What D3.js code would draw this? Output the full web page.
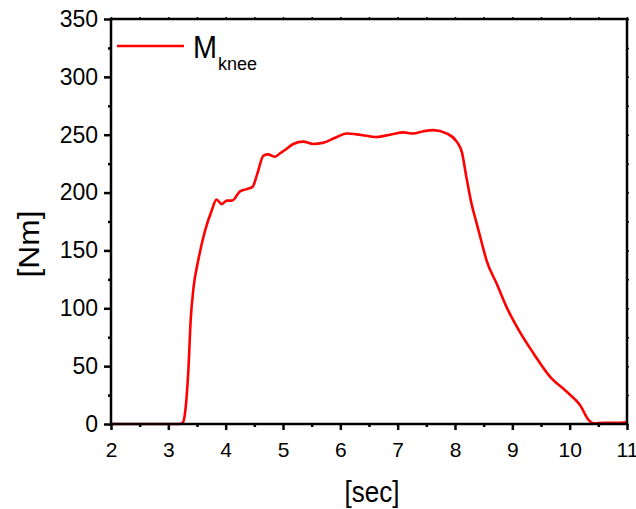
<!DOCTYPE html>
<meta charset="utf-8">
<style>
    body { margin: 0; background: #fff; }
    svg text { font-family: "Liberation Sans", Arial, sans-serif; fill: #000; }
    .line { fill: none; stroke: #ff0000; stroke-width: 2.6px; }
</style>
<body>
<script src="https://cdn.jsdelivr.net/npm/d3@7"></script>
<script>

    // knee moment
    var timeSec = [2, 2.5, 3.0, 3.2, 3.25, 3.29, 3.35, 3.39, 3.44, 3.52, 3.64, 3.76, 3.84, 3.93, 4.02, 4.11,
        4.25, 4.37, 4.47, 4.55, 4.66, 4.74, 4.86, 4.95, 5.04, 5.18, 5.35, 5.53, 5.70, 5.94, 6.11,
        6.34, 6.63, 6.87, 7.10, 7.27, 7.45, 7.62, 7.86, 8.03, 8.12, 8.20, 8.29, 8.38, 8.47, 8.55,
        8.73, 8.90, 9.13, 9.37, 9.66, 9.95, 10.18, 10.33, 10.41, 10.6, 10.8, 11];
    var torqueNm = [0, 0, 0, 0, 1, 9, 47, 90, 118, 141, 167, 185, 194, 190, 193, 193,
        201, 203, 205, 216, 232, 233, 231, 234, 237, 242, 244, 242, 243, 248, 251,
        250, 248, 250, 252, 251, 253, 254, 251, 244, 235, 213, 190, 173, 156, 141.5,
        121, 101, 79.6, 61, 40.8, 27.9, 16.4, 3.5, 0.6, 1, 1, 1.5];

    var xTicks = [2, 3, 4, 5, 6, 7, 8, 9, 10, 11];
    var yTicks = [0, 50, 100, 150, 200, 250, 300, 350];

    var margin = { top: 19, right: 9, bottom: 85, left: 111 },
        width = 636 - margin.left - margin.right,
        height = 509 - margin.top - margin.bottom;

    var x = d3.scaleLinear().domain([2, 11]).range([0, width]);
    var y = d3.scaleLinear().domain([0, 350]).range([height, 0]);

    var svg = d3.select("body").append("svg")
        .attr("width", 636)
        .attr("height", 509)
        .append("g")
        .attr("transform", "translate(" + margin.left + "," + margin.top + ")");

    var data = timeSec.map(function (t, i) { return { t: t, v: torqueNm[i] }; });

    var valueline = d3.line()
        .x(function (d) { return x(d.t); })
        .y(function (d) { return y(d.v); })
        .curve(d3.curveMonotoneX);

    svg.append("path")
        .datum(data)
        .attr("class", "line")
        .attr("d", valueline);

    var xMinor = d3.range(2.5, 11, 1);
    var yMinor = d3.range(25, 350, 50);

    // bottom axis
    var gx = svg.append("g")
        .attr("transform", "translate(0," + height + ")")
        .call(d3.axisBottom(x).tickValues(xTicks).tickSize(6).tickPadding(12).tickFormat(d3.format("d")));
    gx.selectAll(".tick line").attr("stroke-width", 2.5);
    gx.selectAll("text").style("font-size", "21px");
    gx.select(".domain").remove();
    svg.append("g")
        .attr("transform", "translate(0," + height + ")")
        .call(d3.axisBottom(x).tickValues(xMinor).tickSize(3).tickFormat(""))
        .call(function (g) { g.select(".domain").remove(); g.selectAll("line").attr("stroke-width", 2.5); });

    // left axis
    var gy = svg.append("g")
        .call(d3.axisLeft(y).tickValues(yTicks).tickSize(7).tickPadding(6));
    gy.selectAll(".tick line").attr("stroke-width", 2.5);
    gy.selectAll("text").style("font-size", "23px");
    gy.select(".domain").remove();
    svg.append("g")
        .call(d3.axisLeft(y).tickValues(yMinor).tickSize(3).tickFormat(""))
        .call(function (g) { g.select(".domain").remove(); g.selectAll("line").attr("stroke-width", 2.5); });

    // top and right ticks
    svg.append("g")
        .call(d3.axisTop(x).tickValues(xTicks.concat(xMinor)).tickSize(2).tickFormat(""))
        .call(function (g) { g.select(".domain").remove(); g.selectAll("line").attr("stroke-width", 1.5); });
    svg.append("g")
        .attr("transform", "translate(" + width + ",0)")
        .call(d3.axisRight(y).tickValues(yTicks.concat(yMinor)).tickSize(2).tickFormat(""))
        .call(function (g) { g.select(".domain").remove(); g.selectAll("line").attr("stroke-width", 1.5); });

    // frame
    svg.append("rect")
        .attr("width", width)
        .attr("height", height)
        .attr("fill", "none")
        .attr("stroke", "#000")
        .attr("stroke-width", 2.5);

    // legend
    svg.append("line")
        .attr("x1", 6).attr("x2", 73)
        .attr("y1", 27).attr("y2", 27)
        .attr("stroke", "#ff0000")
        .attr("stroke-width", 2.6);
    var leg = svg.append("text")
        .attr("x", 82)
        .attr("y", 39)
        .style("font-size", "31px");
    leg.append("tspan")
        .attr("textLength", 24)
        .attr("lengthAdjust", "spacingAndGlyphs")
        .text("M");
    leg.append("tspan")
        .attr("x", 107)
        .attr("dy", 12)
        .style("font-size", "18px")
        .text("knee");

    // axis titles
    svg.append("text")
        .attr("transform", "translate(" + (39 - margin.left) + "," + (244 - margin.top) + ") rotate(-90)")
        .style("text-anchor", "middle")
        .style("font-size", "29px")
        .attr("textLength", 67)
        .attr("lengthAdjust", "spacingAndGlyphs")
        .text("[Nm]");

    svg.append("text")
        .attr("x", 372 - margin.left)
        .attr("y", 502 - margin.top)
        .style("text-anchor", "middle")
        .style("font-size", "29px")
        .attr("textLength", 55)
        .attr("lengthAdjust", "spacingAndGlyphs")
        .text("[sec]");

</script>
</body>
